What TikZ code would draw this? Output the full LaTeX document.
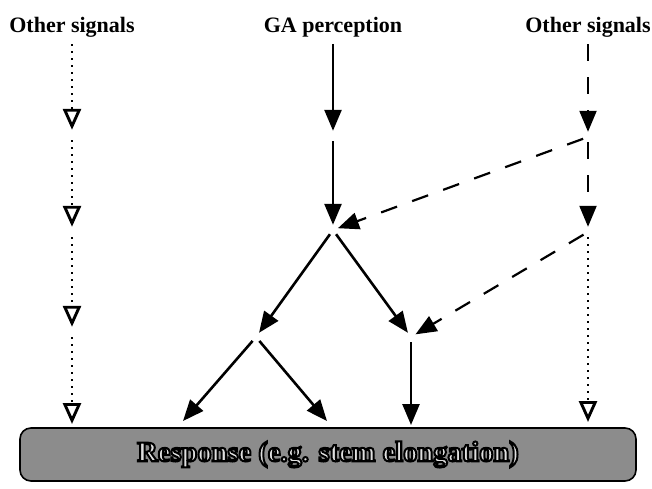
\documentclass[tikz,border=0pt]{standalone}
\usepackage{fontspec}
\setmainfont{Liberation Serif}
\usepackage{tikz}
\usetikzlibrary{arrows.meta}
% light letters with a dark stroke (pdf text render mode 2)
\newcommand{\outlined}[1]{%
  {\color{black!12}\special{pdf:literal direct 2 Tr 2 w 0 G}#1%
   \special{pdf:literal direct 0 Tr}}}
\tikzset{
  sigtext/.style  = {font=\bfseries\fontsize{22}{26}\selectfont, anchor=base,
                     inner sep=6pt},
  jn/.style       = {circle, inner sep=0pt, minimum size=10pt},
  solidar/.style  = {-{Triangle[length=21pt,width=17pt]}, line width=2.6pt},
  dashar/.style   = {-{Triangle[length=21pt,width=17pt]}, line width=2.2pt,
                     dash pattern=on 17pt off 16pt},
  dotar/.style    = {-{Triangle[open,length=21pt,width=18pt,line width=2.9pt]},
                     line width=2.2pt, dash pattern=on 2pt off 5pt},
  respbox/.style  = {draw, line width=1.6pt, rounded corners=11pt, fill=black!45,
                     minimum width=616pt, minimum height=53pt, inner sep=0pt,
                     font=\bfseries\fontsize{28.5}{32}\selectfont}
}

\begin{document}
\begin{tikzpicture}[x=1pt,y=-1pt]
  \useasboundingbox (0,0) rectangle (652,489);
  % sources
  \node[sigtext] (lsig) at (72,33)  {Other signals};
  \node[sigtext] (ga)   at (333,33) {GA perception};
  \node[sigtext] (rsig) at (588,33) {Other signals};
  % response
  \node[respbox] (resp) at (328,454.5) {\outlined{Response (e.g. stem elongation)}};
  % junctions
  \node[jn] (l1) at (72,135) {};
  \node[jn] (l2) at (72,232) {};
  \node[jn] (l3) at (72,332) {};
  \node[jn] (c1) at (333,136) {};
  \node[jn] (c2) at (333,230) {};
  \node[jn] (b1) at (256,337) {};
  \node[jn] (b2) at (411,337) {};
  \node[jn] (r1) at (588,137) {};
  \node[jn] (r2) at (588,232) {};
  \coordinate (t1) at (72,424);
  \coordinate (t2) at (183,421);
  \coordinate (t3) at (327,421);
  \coordinate (t4) at (411,425);
  \coordinate (t5) at (588,422);
  % left column
  \draw[dotar] (lsig) -- (l1);
  \draw[dotar] (l1) -- (l2);
  \draw[dotar] (l2) -- (l3);
  \draw[dotar] (l3) -- (t1);
  % GA pathway
  \draw[solidar] (ga) -- (c1);
  \draw[solidar] (c1) -- (c2);
  \draw[solidar] (c2) -- (b1);
  \draw[solidar] (c2) -- (b2);
  \draw[solidar] (b1) -- (t2);
  \draw[solidar] (b1) -- (t3);
  \draw[solidar] (b2) -- (t4);
  % right column
  \draw[dashar] (rsig) -- (r1);
  \draw[dashar] (r1) -- (r2);
  \draw[dashar] (r1) -- (c2);
  \draw[dashar] (r2) -- (b2);
  \draw[dotar] (r2) -- (t5);
\end{tikzpicture}
\end{document}
